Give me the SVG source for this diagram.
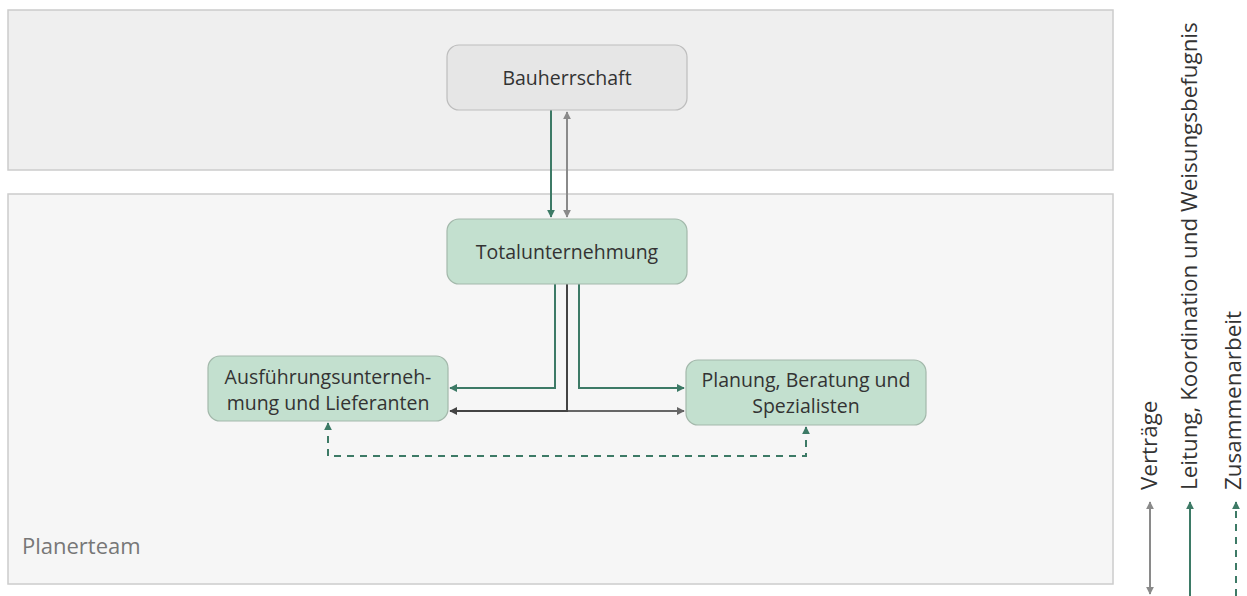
<svg xmlns="http://www.w3.org/2000/svg" width="1247" height="596" viewBox="0 0 1247 596">
  <style>
    .zone { stroke: #cccccc; stroke-width: 1.5; }
    .node-grey { fill: #e6e6e6; stroke: #bdbdbd; stroke-width: 1.2; }
    .node-green { fill: #c3e0cf; stroke: #a3b8ab; stroke-width: 1.2; }
    .label { font-family: "Open Sans", "Noto Sans", "Liberation Sans", sans-serif; font-size: 19.5px; fill: #333333; text-anchor: middle; }
    .zone-label { font-family: "Open Sans", "Noto Sans", "Liberation Sans", sans-serif; font-size: 22px; fill: #777777; }
    .legend { font-family: "Open Sans", "Noto Sans", "Liberation Sans", sans-serif; font-size: 22.4px; fill: #333333; }
    .lead { fill: none; stroke: #3d7a66; stroke-width: 2; }
    .contract { fill: none; stroke: #8a8a8a; stroke-width: 2; }
    .contract-dark { fill: none; stroke: #444444; stroke-width: 2; }
    .contract-mid { fill: none; stroke: #666666; stroke-width: 2; }
    .collab { fill: none; stroke: #3d7a66; stroke-width: 2; stroke-dasharray: 7 6; }
  </style>
  <defs>
    <marker id="ah-green" viewBox="0 0 10 10" refX="9" refY="5" markerWidth="4" markerHeight="4" orient="auto-start-reverse" markerUnits="strokeWidth">
      <path d="M0,0 L10,5 L0,10 z" fill="#3d7a66"/>
    </marker>
    <marker id="ah-grey" viewBox="0 0 10 10" refX="9" refY="5" markerWidth="4" markerHeight="4" orient="auto-start-reverse" markerUnits="strokeWidth">
      <path d="M0,0 L10,5 L0,10 z" fill="#8a8a8a"/>
    </marker>
    <marker id="ah-dark" viewBox="0 0 10 10" refX="9" refY="5" markerWidth="4" markerHeight="4" orient="auto-start-reverse" markerUnits="strokeWidth">
      <path d="M0,0 L10,5 L0,10 z" fill="#444444"/>
    </marker>
    <marker id="ah-mid" viewBox="0 0 10 10" refX="9" refY="5" markerWidth="4" markerHeight="4" orient="auto-start-reverse" markerUnits="strokeWidth">
      <path d="M0,0 L10,5 L0,10 z" fill="#666666"/>
    </marker>
  </defs>

  <!-- zones -->
  <g id="zone-client">
    <rect class="zone" x="8" y="10" width="1105" height="160" fill="#efefef"/>
  </g>
  <g id="zone-team">
    <rect class="zone" x="8" y="194" width="1105" height="390" fill="#f6f6f6"/>
    <text class="zone-label" x="22" y="554">Planerteam</text>
  </g>

  <!-- connectors -->
  <g id="connectors">
    <path class="lead" d="M551,110 V217" marker-end="url(#ah-green)"/>
    <path class="contract" d="M567,112 V217" marker-start="url(#ah-grey)" marker-end="url(#ah-grey)"/>
    <path class="lead" d="M555,284 V388 H450" marker-end="url(#ah-green)"/>
    <path class="lead" d="M579,284 V388 H684" marker-end="url(#ah-green)"/>
    <path class="contract-mid" d="M567,284 V411 H684" marker-end="url(#ah-mid)"/>
    <path class="contract-dark" d="M567,284 V411 H450" marker-end="url(#ah-dark)"/>
    <path class="collab" d="M328,423 V456 H806 V427" marker-start="url(#ah-green)" marker-end="url(#ah-green)"/>
  </g>

  <!-- nodes -->
  <g id="node-bauherrschaft">
    <rect class="node-grey" x="447" y="45" width="240" height="65" rx="12"/>
    <text class="label" x="567" y="85">Bauherrschaft</text>
  </g>
  <g id="node-totalunternehmung">
    <rect class="node-green" x="447" y="219" width="240" height="65" rx="12"/>
    <text class="label" x="567" y="259">Totalunternehmung</text>
  </g>
  <g id="node-ausfuehrung">
    <rect class="node-green" x="208" y="356" width="240" height="65" rx="12"/>
    <text class="label" x="328" y="384">Ausführungsunterneh-</text>
    <text class="label" x="328" y="410">mung und Lieferanten</text>
  </g>
  <g id="node-planung">
    <rect class="node-green" x="686" y="360" width="240" height="65" rx="12"/>
    <text class="label" x="806" y="387">Planung, Beratung und</text>
    <text class="label" x="806" y="413">Spezialisten</text>
  </g>

  <!-- legend -->
  <g id="legend">
    <path class="contract" d="M1150,502 V594" marker-start="url(#ah-grey)" marker-end="url(#ah-grey)"/>
    <text class="legend" transform="translate(1157,490) rotate(-90)">Verträge</text>
    <path class="lead" d="M1190,596 V502" marker-end="url(#ah-green)"/>
    <text class="legend" transform="translate(1197,490) rotate(-90)">Leitung, Koordination und Weisungsbefugnis</text>
    <path class="collab" d="M1236,596 V502" marker-end="url(#ah-green)"/>
    <text class="legend" transform="translate(1241,490) rotate(-90)">Zusammenarbeit</text>
  </g>
</svg>
